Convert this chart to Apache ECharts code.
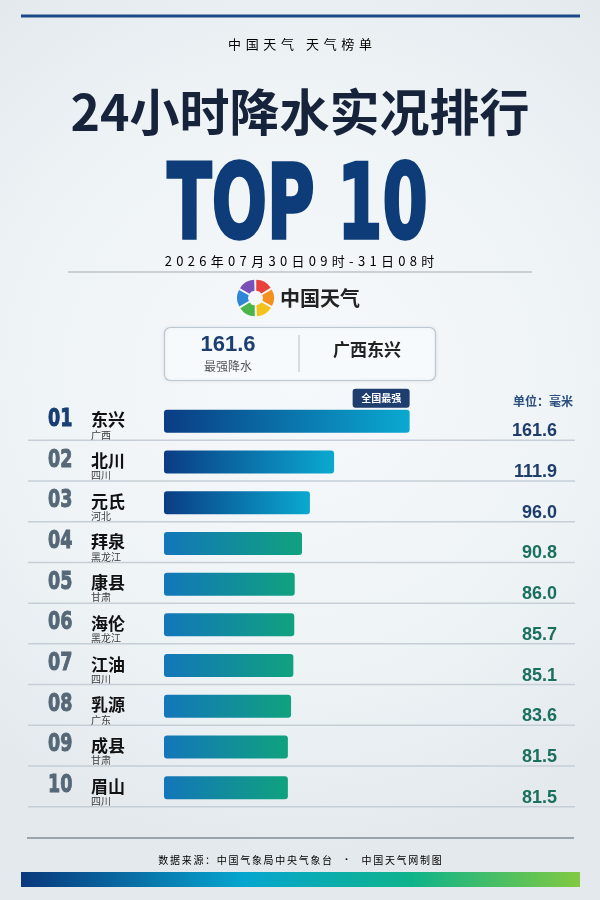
<!DOCTYPE html>
<html>
<head>
<meta charset="utf-8">
<script src="https://cdn.jsdelivr.net/npm/echarts@6/dist/echarts.min.js"></script>
<style>
html,body{margin:0;padding:0;background:#eef3f6;}
#main{width:600px;height:900px;}
</style>
</head>
<body>
<div id="main"></div>
<script>
// ---- data ----
var ranks = ['01','02','03','04','05','06','07','08','09','10'];
var names = ['东兴','北川','元氏','拜泉','康县','海伦','江油','乳源','成县','眉山'];
var provinces = ['广西','四川','河北','黑龙江','甘肃','黑龙江','四川','广东','甘肃','四川'];
var values = [161.6, 111.9, 96.0, 90.8, 86.0, 85.7, 85.1, 83.6, 81.5, 81.5];
var brandText = '中国天气 天气榜单';
var titleText = '24小时降水实况排行';
var topText = 'TOP 10';
var dateText = '2026年07月30日09时-31日08时';
var logoText = '中国天气';
var maxLabel = '最强降水';
var badgeText = '全国最强';
var unitText = '单位：毫米';
var sourceA = '数据来源：中国气象局中央气象台';
var sourceB = '中国天气网制图';

// ---- helpers ----
var CJK = '"Noto Sans CJK SC", sans-serif';
function spaced(str, key){
  return str.split('').map(function(c){ return c === ' ' ? '{' + key + 'sp| }' : '{' + key + '|' + c + '}'; }).join('');
}

var chart = echarts.init(document.getElementById('main'), null, {renderer:'canvas', width:600, height:900});

var gradTop = new echarts.graphic.LinearGradient(0,0,1,0,[{offset:0,color:'#0a3c84'},{offset:1,color:'#0aa9d0'}]);
var gradRest = new echarts.graphic.LinearGradient(0,0,1,0,[{offset:0,color:'#1376ba'},{offset:1,color:'#10a27e'}]);

var logoColors = ['#e8423b','#f5901e','#f3c21b','#4bb54a','#2f86d6','#7a4fb8'];
var logoCx = 255.5, logoCy = 298;
var logoParts = logoColors.map(function(c, k){
  var a0 = (-90 + k*60) * Math.PI/180;
  var mid = a0 + 30*Math.PI/180;
  return {
    type:'sector',
    shape:{cx: logoCx + Math.cos(mid)*1.5, cy: logoCy + Math.sin(mid)*1.5, r:17, r0:6, startAngle:a0, endAngle:a0 + 58*Math.PI/180},
    style:{fill:c}
  };
});

var option = {
  backgroundColor: {
    type:'radial', x:0.5, y:0.42, r:0.8,
    colorStops:[{offset:0,color:'#f6f9fb'},{offset:0.6,color:'#eef3f6'},{offset:1,color:'#e3e9ed'}]
  },
  animation:false,
  grid:{left:164, top:401, width:304, height:407, containLabel:false},
  xAxis:{type:'value', min:0, max:200, show:false},
  yAxis:{type:'category', inverse:true, data:names, show:false},
  series:[
    {
      type:'bar',
      data:values,
      barWidth:23,
      itemStyle:{
        borderRadius:3,
        color:function(p){ return p.dataIndex < 3 ? gradTop : gradRest; }
      },
      z:3
    },
    {
      type:'custom',
      clip:false,
      z:4,
      data: values.map(function(v,i){ return [v,i]; }),
      renderItem:function(params, api){
        var i = api.value(1);
        var p0 = api.coord([0, i]);
        var pv = api.coord([api.value(0), i]);
        var x0 = p0[0], cy = p0[1];
        var top3 = i < 3;
        var ch = [
          {type:'line', shape:{x1:x0-136, y1:cy+19, x2:x0+411, y2:cy+19}, style:{stroke:'#c6cfd7', lineWidth:1.5}},
          {type:'text', x:x0-116, y:cy-2, scaleX:0.7,
            style:{text:ranks[i], fill: i===0 ? '#173d73' : '#566878', font:'bold 25px "DejaVu Sans"', align:'left', verticalAlign:'middle', stroke: i===0 ? '#173d73' : '#566878', lineWidth:1}},
          {type:'text', x:x0-73, y:cy-1.5,
            style:{text:names[i], fill:'#111', font:'bold 17px ' + CJK, align:'left', verticalAlign:'middle'}},
          {type:'text', x:x0-73, y:cy+13.5,
            style:{text:provinces[i], fill:'#3c3c3c', font:'10px ' + CJK, align:'left', verticalAlign:'middle'}},
          {type:'text', x:x0+393, y:cy+10,
            style:{text:api.value(0).toFixed(1), fill: top3 ? '#1e3d6b' : '#1b6f5e', font:'bold 18px "Liberation Sans", Arial, sans-serif', align:'right', verticalAlign:'middle'}}
        ];
        if (i === 0) {
          ch.push({type:'rect', shape:{x:pv[0]-57, y:cy-32.5, width:57, height:19, r:3}, style:{fill:'#1d3e6e'}});
          ch.push({type:'text', x:pv[0]-28.5, y:cy-23,
            style:{text:badgeText, fill:'#fff', font:'bold 10px ' + CJK, align:'center', verticalAlign:'middle'}});
        }
        return {type:'group', children:ch};
      }
    }
  ],
  graphic:[
    {type:'rect', shape:{x:21, y:14.5, width:559, height:3}, style:{fill:'#1a4888'}},
    {type:'text', x:300, y:44, style:{text:spaced(brandText,'b'), align:'center', verticalAlign:'middle',
      rich:{b:{fontFamily:'"Noto Sans CJK SC"', fontSize:13, color:'#2e2e2e', padding:[0,2.3]}, bsp:{fontSize:13, padding:[0,2]}}}},
    {type:'text', x:300, y:112, style:{text:titleText, fill:'#16233a', font:'bold 50px ' + CJK, align:'center', verticalAlign:'middle'}},
    {type:'text', x:297.5, y:211, scaleX:0.625, style:{text:topText, fill:'#0e3c78', stroke:'#0e3c78', lineWidth:3.5, font:'bold 104px "DejaVu Sans"', align:'center', verticalAlign:'middle'}},
    {type:'text', x:299.5, y:261, style:{text:spaced(dateText,'d'), align:'center', verticalAlign:'middle',
      rich:{d:{fontFamily:'"Noto Sans CJK SC"', fontSize:13, color:'#222', padding:[0,2.15]}}}},
    {type:'line', shape:{x1:68, y1:272, x2:532, y2:272}, style:{stroke:'#a3abb3', lineWidth:1}},
    {type:'group', children:logoParts},
    {type:'circle', shape:{cx:logoCx, cy:logoCy, r:5.5}, style:{fill:'#f3f7f9'}},
    {type:'text', x:280, y:298, style:{text:logoText, fill:'#222', font:'bold 20px ' + CJK, align:'left', verticalAlign:'middle'}},
    {type:'rect', shape:{x:164.5, y:327.5, width:271, height:53, r:6}, style:{fill:'#f7fafc', stroke:'#b9c8d3', lineWidth:1.2, shadowBlur:4, shadowColor:'rgba(0,40,80,0.08)'}},
    {type:'text', x:228, y:345, style:{text:values[0].toFixed(1), fill:'#1b3f70', font:'bold 22px "Liberation Sans", Arial, sans-serif', align:'center', verticalAlign:'middle'}},
    {type:'text', x:228, y:366, style:{text:maxLabel, fill:'#555', font:'12px ' + CJK, align:'center', verticalAlign:'middle'}},
    {type:'line', shape:{x1:299, y1:335, x2:299, y2:372}, style:{stroke:'#b5bec6', lineWidth:1}},
    {type:'text', x:367, y:350, style:{text:provinces[0] + names[0], fill:'#222', font:'bold 17px ' + CJK, align:'center', verticalAlign:'middle'}},
    {type:'text', x:573, y:401, style:{text:unitText, fill:'#2b4f7e', font:'bold 12px ' + CJK, align:'right', verticalAlign:'middle'}},
    {type:'line', shape:{x1:27, y1:838, x2:574, y2:838}, style:{stroke:'#9aa4ad', lineWidth:2}},
    {type:'text', x:300, y:860, style:{text:spaced(sourceA,'f') + '{dot|·}' + spaced(sourceB,'f'), align:'center', verticalAlign:'middle',
      rich:{f:{fontFamily:'"Noto Sans CJK SC"', fontSize:10, color:'#333', padding:[0,0.85]}, dot:{fontSize:11, color:'#333', fontWeight:'bold', padding:[0,12]}}}},
    {type:'rect', shape:{x:21, y:872, width:559, height:15},
      style:{fill:new echarts.graphic.LinearGradient(0,0,1,0,[{offset:0,color:'#0a387c'},{offset:0.4,color:'#06a6cf'},{offset:0.7,color:'#0fb38a'},{offset:1,color:'#82c941'}])}}
  ]
};
chart.setOption(option);
</script>
</body>
</html>
